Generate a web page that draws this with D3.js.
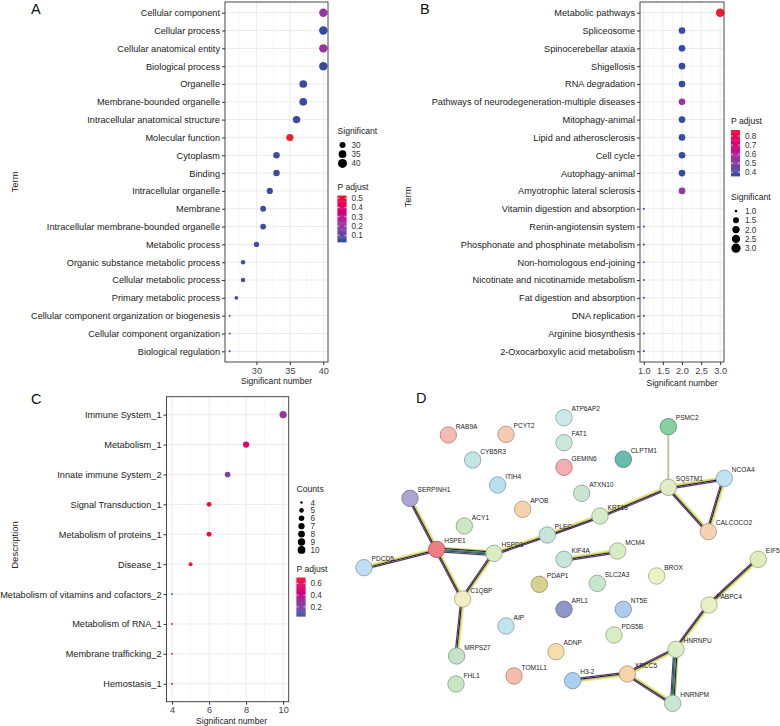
<!DOCTYPE html>
<html>
<head>
    <title>Enrichment dot plots and PPI network</title>
    <script src="https://cdn.jsdelivr.net/npm/d3@7"></script>
    <style>
        body { margin: 0; background: #fff; }
        text { font-family: "Liberation Sans", Arial, sans-serif; }
    </style>
</head>
<body>
<svg width="780" height="726"></svg>

<script>
    // ---------- data: panel A (GO) ----------
    const termsA = ["Cellular component", "Cellular process", "Cellular anatomical entity", "Biological process",
        "Organelle", "Membrane-bounded organelle", "Intracellular anatomical structure", "Molecular function",
        "Cytoplasm", "Binding", "Intracellular organelle", "Membrane", "Intracellular membrane-bounded organelle",
        "Metabolic process", "Organic substance metabolic process", "Cellular metabolic process",
        "Primary metabolic process", "Cellular component organization or biogenesis",
        "Cellular component organization", "Biological regulation"];
    const countsA = [40, 40, 40, 40, 37, 37, 36, 35, 33, 33, 32, 31, 31, 30, 28, 28, 27, 26, 26, 26];
    const padjA = [0.21, 0.028, 0.22, 0.03, 0.04, 0.04, 0.04, 0.529, 0.05, 0.05, 0.05, 0.05, 0.05,
        0.06, 0.06, 0.06, 0.06, 0.05, 0.05, 0.05];
    const ticksA = [30, 35, 40];

    // ---------- data: panel B (KEGG) ----------
    const termsB = ["Metabolic pathways", "Spliceosome", "Spinocerebellar ataxia", "Shigellosis", "RNA degradation",
        "Pathways of neurodegeneration-multiple diseases", "Mitophagy-animal", "Lipid and atherosclerosis",
        "Cell cycle", "Autophagy-animal", "Amyotrophic lateral sclerosis", "Vitamin digestion and absorption",
        "Renin-angiotensin system", "Phosphonate and phosphinate metabolism", "Non-homologous end-joining",
        "Nicotinate and nicotinamide metabolism", "Fat digestion and absorption", "DNA replication",
        "Arginine biosynthesis", "2-Oxocarboxylic acid metabolism"];
    const countsB = [3, 2, 2, 2, 2, 2, 2, 2, 2, 2, 2, 1, 1, 1, 1, 1, 1, 1, 1, 1];
    const padjB = [0.866, 0.37, 0.37, 0.37, 0.37, 0.54, 0.37, 0.37, 0.37, 0.37, 0.53,
        0.36, 0.36, 0.36, 0.36, 0.36, 0.36, 0.36, 0.36, 0.36];
    const ticksB = [1.0, 1.5, 2.0, 2.5, 3.0];

    // ---------- data: panel C (Reactome) ----------
    const termsC = ["Immune System_1", "Metabolism_1", "Innate immune System_2", "Signal Transduction_1",
        "Metabolism of proteins_1", "Disease_1", "Metabolism of vitamins and cofactors_2",
        "Metabolism of RNA_1", "Membrane trafficking_2", "Hemostasis_1"];
    const countsC = [10, 8, 7, 6, 6, 5, 4, 4, 4, 4];
    const padjC = [0.29, 0.55, 0.21, 0.68, 0.68, 0.70, 0.04, 0.66, 0.66, 0.64];
    const ticksC = [4, 6, 8, 10];

    // ---------- data: panel D (STRING network, layout units) ----------
    const nodeNames = ["RAB9A", "PCYT2", "ATP6AP2", "FAT1", "GEMIN6", "CYB5R3", "CLPTM1", "PSMC2", "NCOA4",
        "SQSTM1", "ITIH4", "ATXN10", "SERPINH1", "APOB", "KRT18", "CALCOCO2", "ACY1", "PLEC", "HSPE1",
        "HSPD1", "KIF4A", "MCM4", "EIF5", "BROX", "PDAP1", "SLC2A3", "C1QBP", "PABPC4", "ARL1", "NT5E",
        "AIP", "PDS5B", "ADNP", "HNRNPU", "MRPS27", "XRCC5", "TOM1L1", "H3-2", "FHL1", "HNRNPM", "PDCD5"];
    const nodeLayoutX = [175, 348, 522, 522, 522, 248, 700, 835, 1003, 835, 323, 575, 60, 398, 630, 955, 223,
        472, 140, 312, 522, 683, 1105, 800, 448, 622, 218, 957, 522, 700, 348, 672, 498, 858, 200, 712, 372,
        548, 198, 848, -78];
    const nodeLayoutY = [135, 133, 83, 158, 232, 210, 208, 110, 265, 292, 285, 310, 325, 358, 378, 425, 408,
        435, 478, 490, 508, 483, 508, 558, 583, 580, 627, 645, 658, 658, 708, 735, 785, 778, 798, 852, 858,
        872, 882, 940, 533];
    const nodeFill = ["#f3bdb4", "#f6cbb4", "#cbe9e8", "#c9e7da", "#f2aeb0", "#c3e5e2", "#67bcae", "#86cf9e",
        "#bfe3f1", "#e1ebc4", "#b9e0f1", "#c8e6cf", "#aba6d4", "#f6d2ae", "#d4ecc8", "#f6d2b4", "#cbe7c4",
        "#c6e6d8", "#f07e80", "#d9edc3", "#c6e7d8", "#d7edc4", "#e1eebc", "#eef3c4", "#d6d290", "#c6e7cb",
        "#f1edc4", "#e8f1c3", "#8e98c6", "#accbed", "#c1e5f0", "#d9eec3", "#f6ddac", "#dcedc3", "#c3e3cb",
        "#f8d4ac", "#f3bcad", "#acd0f1", "#c7e7c3", "#c7e7d3", "#bfdef2"];
    const edgeList = [
        ["SERPINH1", "HSPE1"], ["PDCD5", "HSPE1"], ["HSPE1", "HSPD1"], ["HSPE1", "C1QBP"], ["HSPD1", "C1QBP"],
        ["HSPD1", "PLEC"], ["PLEC", "KRT18"], ["KRT18", "SQSTM1"], ["SQSTM1", "PSMC2"], ["SQSTM1", "NCOA4"],
        ["SQSTM1", "CALCOCO2"], ["NCOA4", "CALCOCO2"], ["C1QBP", "MRPS27"], ["KIF4A", "MCM4"],
        ["EIF5", "PABPC4"], ["PABPC4", "HNRNPU"], ["HNRNPU", "XRCC5"], ["HNRNPU", "HNRNPM"],
        ["XRCC5", "HNRNPM"], ["XRCC5", "H3-2"]];
    const edgeKind = ["std", "std", "rich", "std", "std", "std", "std", "std", "thin", "std", "std", "std",
        "std", "std", "std", "std", "std", "rich", "std", "std"];

    const svg = d3.select("svg");
    const low = "#2f4c9f", high = "#ee1c2f";
    const grid = "#ebebeb";

    function dotplot(cfg) {
        const g = svg.append("g");
        const x = d3.scaleLinear().domain(cfg.xDomain).range([cfg.left, cfg.right]);
        const y = d3.scalePoint().domain(cfg.terms).range([cfg.top, cfg.bottom]).padding(0.6);
        const ext = d3.extent(cfg.counts);
        const r = v => cfg.rMin + (cfg.rMax - cfg.rMin) * Math.sqrt((v - ext[0]) / (ext[1] - ext[0]));
        const cExt = d3.extent(cfg.padj);
        const color = d3.scaleLinear().domain(cExt).range([low, high]).interpolate(d3.interpolateHcl);

        // grid
        g.selectAll(".minor").data(cfg.minor).enter().append("line")
            .attr("x1", d => x(d)).attr("x2", d => x(d))
            .attr("y1", cfg.top).attr("y2", cfg.bottom)
            .attr("stroke", "#f3f3f3").attr("stroke-width", 0.6);
        g.selectAll(".major").data(cfg.ticks).enter().append("line")
            .attr("x1", d => x(d)).attr("x2", d => x(d))
            .attr("y1", cfg.top).attr("y2", cfg.bottom)
            .attr("stroke", grid).attr("stroke-width", 1);
        g.selectAll(".hgrid").data(cfg.terms).enter().append("line")
            .attr("x1", cfg.left).attr("x2", cfg.right)
            .attr("y1", d => y(d)).attr("y2", d => y(d))
            .attr("stroke", grid).attr("stroke-width", 1);

        // axes
        const xAxis = d3.axisBottom(x).tickValues(cfg.ticks).tickFormat(cfg.fmt).tickSize(3).tickPadding(2);
        const ax = g.append("g").attr("transform", `translate(0,${cfg.bottom})`).call(xAxis);
        const yAxis = d3.axisLeft(y).tickSize(3).tickPadding(2);
        const ay = g.append("g").attr("transform", `translate(${cfg.left},0)`).call(yAxis);
        [ax, ay].forEach(a => {
            a.select(".domain").remove();
            a.selectAll(".tick line").attr("stroke", "#333");
            a.selectAll(".tick text").attr("fill", "#1a1a1a").attr("font-size", cfg.fs).attr("font-family", "Liberation Sans, Arial, sans-serif");
        });
        ax.selectAll(".tick text").attr("fill", "#444");

        // points
        const idx = d3.range(cfg.terms.length);
        g.selectAll(".pt").data(idx).enter().append("circle")
            .attr("cx", i => x(cfg.counts[i])).attr("cy", i => y(cfg.terms[i]))
            .attr("r", i => r(cfg.counts[i]))
            .attr("fill", i => color(cfg.padj[i]));

        g.append("rect").attr("x", cfg.left).attr("y", cfg.top)
            .attr("width", cfg.right - cfg.left).attr("height", cfg.bottom - cfg.top)
            .attr("fill", "none").attr("stroke", "#333").attr("stroke-width", 0.9);

        // titles
        g.append("text").attr("x", (cfg.left + cfg.right) / 2 + (cfg.xtDx || 0)).attr("y", cfg.xtY)
            .attr("text-anchor", "middle").attr("font-size", 8.6).attr("fill", "#222").text("Significant number");
        g.append("text").attr("transform", `translate(${cfg.ytX},${cfg.ytY}) rotate(-90)`)
            .attr("text-anchor", "middle").attr("font-size", 9.5).attr("fill", "#222").text(cfg.yTitle);
        g.append("text").attr("x", cfg.tagX).attr("y", cfg.tagY)
            .attr("font-size", 14.5).attr("fill", "#111").text(cfg.tag);

        // size legend
        const sg = g.append("g").attr("transform", `translate(${cfg.sizeLeg[0]},${cfg.sizeLeg[1]})`);
        sg.append("text").attr("x", 0).attr("y", 0).attr("font-size", 8.6).attr("fill", "#222").text(cfg.sizeTitle);
        sg.selectAll(".sl").data(cfg.sizeBreaks).enter().append("circle")
            .attr("cx", 5).attr("cy", (d, i) => 11 + i * cfg.sizeStep).attr("r", d => r(d) + 0.3).attr("fill", "#000");
        sg.selectAll(".slt").data(cfg.sizeBreaks).enter().append("text")
            .attr("x", 14).attr("y", (d, i) => 14 + i * cfg.sizeStep)
            .attr("font-size", 8.2).attr("fill", "#333").text(cfg.sizeFmt);

        // colour legend
        const cg = g.append("g").attr("transform", `translate(${cfg.colLeg[0]},${cfg.colLeg[1]})`);
        cg.append("text").attr("x", 0).attr("y", 0).attr("font-size", 8.6).attr("fill", "#222").text("P adjust");
        const bh = cfg.barH, bw = 9, by = 6;
        const cy = d3.scaleLinear().domain(cExt).range([by + bh, by]);
        const steps = d3.range(0, 1.0001, 1 / 40).map(t => cExt[0] + t * (cExt[1] - cExt[0]));
        cg.selectAll(".cb").data(steps.slice(0, -1)).enter().append("rect")
            .attr("x", 0).attr("width", bw)
            .attr("y", (d, i) => cy(steps[i + 1])).attr("height", (d, i) => cy(steps[i]) - cy(steps[i + 1]) + 0.4)
            .attr("fill", (d, i) => color((steps[i] + steps[i + 1]) / 2));
        cfg.colBreaks.forEach(b => {
            cg.append("line").attr("x1", 0).attr("x2", 2).attr("y1", cy(b)).attr("y2", cy(b)).attr("stroke", "#fff").attr("stroke-width", 0.7);
            cg.append("line").attr("x1", bw - 2).attr("x2", bw).attr("y1", cy(b)).attr("y2", cy(b)).attr("stroke", "#fff").attr("stroke-width", 0.7);
            cg.append("text").attr("x", bw + 5).attr("y", cy(b) + 3).attr("font-size", 8.2).attr("fill", "#333").text(cfg.colFmt(b));
        });
    }

    dotplot({
        terms: termsA, counts: countsA, padj: padjA, ticks: ticksA, minor: [27.5, 32.5, 37.5],
        xDomain: [25.3, 40.7], left: 225, right: 328, top: 2, bottom: 362, fs: 9.2, fmt: d3.format("d"),
        rMin: 1.0, rMax: 4.2, xtY: 384, ytX: 18, ytY: 182, yTitle: "Term", tag: "A", tagX: 31, tagY: 14,
        sizeTitle: "Significant", sizeLeg: [337.5, 134], sizeBreaks: [30, 35, 40], sizeStep: 9.2, sizeFmt: d3.format("d"),
        colLeg: [337.5, 189.5], barH: 46.5, colBreaks: [0.1, 0.2, 0.3, 0.4, 0.5], colFmt: d3.format(".1f")
    });

    dotplot({
        terms: termsB, counts: countsB, padj: padjB, ticks: ticksB, minor: [1.25, 1.75, 2.25, 2.75],
        xDomain: [0.9, 3.1], left: 640, right: 724, top: 2, bottom: 362, fs: 9.2, fmt: d3.format(".1f"),
        rMin: 1.0, rMax: 4.3, xtY: 385.5, ytX: 411, ytY: 197, yTitle: "Term", tag: "B", tagX: 420, tagY: 14,
        sizeTitle: "Significant", sizeLeg: [731, 200], sizeBreaks: [1.0, 1.5, 2.0, 2.5, 3.0], sizeStep: 9.3, sizeFmt: d3.format(".1f"),
        colLeg: [731, 124], barH: 46, colBreaks: [0.4, 0.5, 0.6, 0.7, 0.8], colFmt: d3.format(".1f")
    });

    dotplot({
        terms: termsC, counts: countsC, padj: padjC, ticks: ticksC, minor: [5, 7, 9],
        xDomain: [3.7, 10.3], left: 166.5, right: 288.7, top: 396.7, bottom: 701.7, fs: 9.2, fmt: d3.format("d"),
        rMin: 0.9, rMax: 3.6, xtY: 723.5, xtDx: 4, ytX: 18, ytY: 545, yTitle: "Description", tag: "C", tagX: 31, tagY: 404,
        sizeTitle: "Counts", sizeLeg: [296.5, 491.5], sizeBreaks: [4, 5, 6, 7, 8, 9, 10], sizeStep: 7.9, sizeFmt: d3.format("d"),
        colLeg: [296.5, 571.5], barH: 38.7, colBreaks: [0.2, 0.4, 0.6], colFmt: d3.format(".1f")
    });

    // ---------- panel D: network ----------
    const gx = d3.scaleLinear().domain([0, 1170]).range([390, 780]);
    const gy = d3.scaleLinear().domain([0, 1008]).range([390, 726]);
    const nodes = nodeNames.map((n, i) => ({ id: n, x: gx(nodeLayoutX[i]), y: gy(nodeLayoutY[i]), fill: nodeFill[i] }));
    const byId = new Map(nodes.map(n => [n.id, n]));

    const dg = svg.append("g");
    dg.append("text").attr("x", 416).attr("y", 403).attr("font-size", 14.5).attr("fill", "#111").text("D");

    const strands = {
        std: [["#efe99a", -1.8], ["#c6d34a", -0.6], ["#2a2233", 0.6], ["#5a3b74", 1.8]],
        rich: [["#c6d34a", -2.2], ["#2a2233", -1.1], ["#1f8a86", 0], ["#235f4a", 1.1], ["#5a3b74", 2.2]],
        thin: [["#cdbfa4", 0]]
    };
    edgeList.forEach((e, k) => {
        const s = byId.get(e[0]), t = byId.get(e[1]);
        const dx = t.x - s.x, dy = t.y - s.y, len = Math.hypot(dx, dy);
        const nx = -dy / len, ny = dx / len;
        strands[edgeKind[k]].forEach(([col, off]) => {
            dg.append("line")
                .attr("x1", s.x + nx * off).attr("y1", s.y + ny * off)
                .attr("x2", t.x + nx * off).attr("y2", t.y + ny * off)
                .attr("stroke", col).attr("stroke-width", edgeKind[k] === "thin" ? 2 : 1.25);
        });
    });

    dg.selectAll(".node").data(nodes).enter().append("circle")
        .attr("cx", d => d.x).attr("cy", d => d.y).attr("r", 8.2)
        .attr("fill", d => d.fill)
        .attr("stroke", d => d3.color(d.fill).darker(0.9))
        .attr("stroke-width", 0.9);

    dg.selectAll(".nlabel").data(nodes).enter().append("text")
        .attr("x", d => d.x + 7.5).attr("y", d => d.y - 6.3)
        .attr("font-size", 6.6).attr("fill", "#222").text(d => d.id);
</script>
</body>
</html>
